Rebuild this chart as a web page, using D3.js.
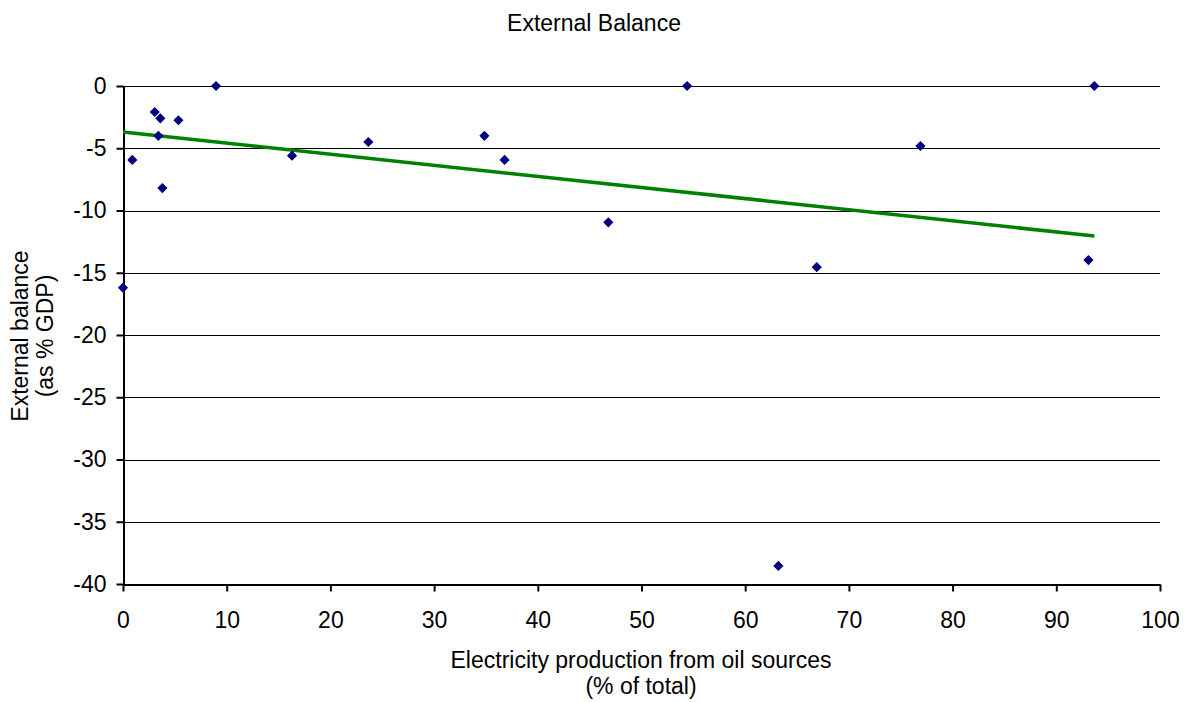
<!DOCTYPE html>
<html>
<head>
<meta charset="utf-8">
<script src="https://cdn.jsdelivr.net/npm/d3@7"></script>
<style>
  body { margin: 0; background: #fff; }
  text { font-family: "Liberation Sans", Arial, sans-serif; fill: #000; }
</style>
</head>
<body>
<div id="chart"></div>
<script>
// oil share of electricity production (% of total)
const oilShare = [0, 0.9, 3.06, 3.6, 3.41, 3.8, 5.34, 8.97, 16.3, 23.66, 34.85, 36.8, 46.8, 54.4, 63.2, 66.9, 76.9, 93.1, 93.67];
// external balance (% GDP)
const extBalance = [-16.2, -5.94, -2.09, -2.6, -4.0, -8.2, -2.75, 0, -5.6, -4.5, -4.0, -5.94, -10.95, 0, -38.55, -14.55, -4.82, -13.98, 0];

// linear trend as drawn in the picture
const trendX = [0, 93.67];
const trendY = [-3.69, -12.05];

const xTicks = [0, 10, 20, 30, 40, 50, 60, 70, 80, 90, 100];
const yTicks = [0, -5, -10, -15, -20, -25, -30, -35, -40];

const width = 1193, height = 702;
const margin = { top: 86, right: 33, bottom: 118, left: 123 };
const fontSize = "23px";

const svg = d3.select("#chart").append("svg")
  .attr("width", width)
  .attr("height", height);

const x = d3.scaleLinear().domain([0, 100]).range([margin.left, width - margin.right]);
const y = d3.scaleLinear().domain([-40, 0]).range([height - margin.bottom, margin.top]);

// horizontal gridlines
svg.append("g")
  .selectAll("line")
  .data(yTicks)
  .enter()
  .append("line")
  .attr("x1", x(0))
  .attr("x2", x(100))
  .attr("y1", d => Math.round(y(d)) + 0.5)
  .attr("y2", d => Math.round(y(d)) + 0.5)
  .attr("stroke", "#000")
  .attr("stroke-width", 1.2);

// plain hyphen for negatives, like the original
const fmt = d => String(d);

// y axis
const yAxis = svg.append("g")
  .attr("transform", `translate(${Math.round(x(0)) + 0.5},0)`)
  .call(d3.axisLeft(y).tickValues(yTicks).tickFormat(fmt).tickSize(7).tickPadding(10).tickSizeOuter(0));

// x axis
const xAxis = svg.append("g")
  .attr("transform", `translate(0,${Math.round(y(-40)) + 0.5})`)
  .call(d3.axisBottom(x).tickValues(xTicks).tickFormat(fmt).tickSize(7).tickPadding(20).tickSizeOuter(0));

[yAxis, xAxis].forEach(g => {
  g.select(".domain").attr("stroke", "#000").attr("stroke-width", 2);
  g.selectAll(".tick line").attr("stroke", "#000").attr("stroke-width", 2);
  g.selectAll(".tick text")
    .style("font-family", '"Liberation Sans", Arial, sans-serif')
    .style("font-size", fontSize)
    .attr("fill", "#000");
});

// trend line
svg.append("line")
  .attr("x1", x(trendX[0]))
  .attr("y1", y(trendY[0]))
  .attr("x2", x(trendX[1]))
  .attr("y2", y(trendY[1]))
  .attr("stroke", "#008000")
  .attr("stroke-width", 3.5);

// points (diamonds)
svg.append("g")
  .selectAll("path")
  .data(oilShare.map((v, i) => [v, extBalance[i]]))
  .enter()
  .append("path")
  .attr("d", d3.symbol().type(d3.symbolSquare).size(52))
  .attr("transform", d => `translate(${x(d[0])},${y(d[1])}) rotate(45)`)
  .attr("fill", "#000080");

// title
svg.append("text")
  .attr("x", 594)
  .attr("y", 31)
  .attr("text-anchor", "middle")
  .style("font-size", fontSize)
  .text("External Balance");

// x label
const xl = svg.append("text")
  .attr("text-anchor", "middle")
  .style("font-size", fontSize);
xl.append("tspan").attr("x", 641).attr("y", 668).text("Electricity production from oil sources");
xl.append("tspan").attr("x", 641).attr("y", 694).text("(% of total)");

// y label
const yl = svg.append("text")
  .attr("text-anchor", "middle")
  .attr("transform", "translate(0,336) rotate(-90)")
  .style("font-size", fontSize);
yl.append("tspan").attr("x", 0).attr("y", 28).text("External balance");
yl.append("tspan").attr("x", 0).attr("y", 53).text("(as % GDP)");
</script>
</body>
</html>
